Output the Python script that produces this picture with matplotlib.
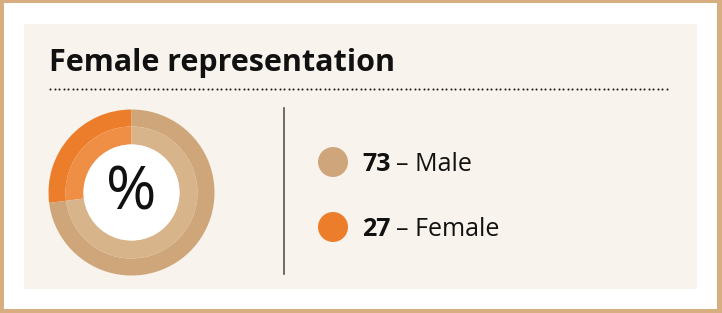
import numpy as np
import matplotlib.pyplot as plt
from matplotlib.patches import Wedge, Circle, Rectangle

# Data
labels = ['Male', 'Female']
values = [73, 27]
title = 'Female representation'

# Colours (outer ring, inner ring) per category
outer_colors = ['#CFA57A', '#EC7D2A']
inner_colors = ['#D8B48B', '#EF8E45']
dot_colors = ['#CFA67B', '#EC7E2B']

W, H = 722, 313
FONT = ['Open Sans', 'DejaVu Sans']

fig = plt.figure(figsize=(W / 100, H / 100), dpi=100)
ax = fig.add_axes([0, 0, 1, 1])
ax.set_xlim(0, W)
ax.set_ylim(H, 0)
ax.axis('off')

# Frame and panel
ax.add_patch(Rectangle((0, 0), W, H, facecolor='#D6AE80', edgecolor='none'))
ax.add_patch(Rectangle((4, 3), W - 9, H - 7, facecolor='white', edgecolor='none'))
ax.add_patch(Rectangle((24, 24), 673, 265, facecolor='#F8F3EC', edgecolor='none'))

# Title and dotted rule
ax.text(49, 71, title, fontsize=22, fontweight='bold', color='#111111',
        family=FONT, va='baseline', ha='left')
dots_x = np.arange(50, 670, 4.5)
ax.scatter(dots_x, np.full_like(dots_x, 88.5), s=2.2, color='#222222', linewidths=0)

# Donut: female starts at 12 o'clock going counter-clockwise
cx, cy = 131.5, 192.5
r_out, r_mid, r_in = 83, 66, 48
total = sum(values)
angles = []
a = 90.0
for v in values[::-1]:
    span = 360.0 * v / total
    angles.append((a, a + span))
    a += span
for (a0, a1), oc, ic in zip(angles, outer_colors[::-1], inner_colors[::-1]):
    # y axis is inverted, so flip the angles
    ax.add_patch(Wedge((cx, cy), r_out, -a1, -a0, width=r_out - r_mid,
                       facecolor=oc, edgecolor='none'))
    ax.add_patch(Wedge((cx, cy), r_mid, -a1, -a0, width=r_mid - r_in,
                       facecolor=ic, edgecolor='none'))
ax.add_patch(Circle((cx, cy), r_in, facecolor='white', edgecolor='none'))
ax.text(cx, cy + 1, '%', fontsize=44, color='#111111', ha='center', va='center',
        family=FONT)

# Separator
ax.plot([284, 284], [108, 274], color='#555555', linewidth=1.2)

# Legend
legend_y = [162, 227]
for lab, val, col, y in zip(labels, values, dot_colors, legend_y):
    ax.add_patch(Circle((333, y), 15, facecolor=col, edgecolor='none'))
    ax.text(362, y + 9, f'{val}', fontsize=18, fontweight='bold', color='#111111',
            family=FONT, va='baseline')
    ax.text(396, y + 9, f'\u2013 {lab}', fontsize=18, color='#111111',
            family=FONT, va='baseline')

fig.savefig('out.png', dpi=100)
